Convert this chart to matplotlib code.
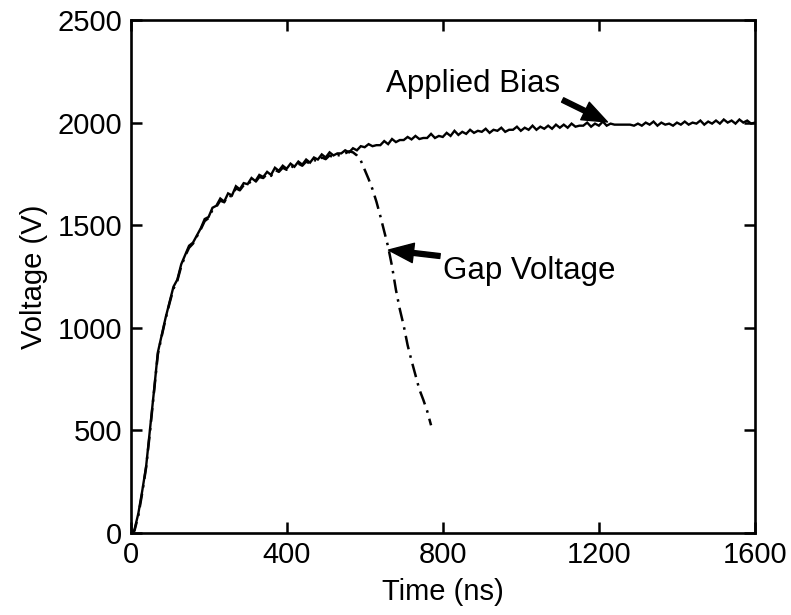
import matplotlib
matplotlib.use("Agg")
import matplotlib.pyplot as plt

plt.rcParams['font.family'] = ['Liberation Sans', 'DejaVu Sans']

# Applied bias, sampled every 10 ns from 0 to 1600 ns
bias_time = list(range(0, 1610, 10))
bias_volt = [
    0, 15, 95, 205, 325, 505, 690, 880, 965, 1050,
    1125, 1200, 1235, 1310, 1355, 1400, 1415, 1450, 1485, 1530,
    1540, 1585, 1595, 1630, 1615, 1655, 1645, 1690, 1675, 1705,
    1700, 1730, 1715, 1745, 1735, 1760, 1745, 1780, 1765, 1790,
    1775, 1800, 1785, 1810, 1795, 1820, 1805, 1830, 1820, 1845,
    1830, 1855, 1840, 1850, 1850, 1865, 1855, 1875, 1865, 1885,
    1880, 1895, 1885, 1890, 1890, 1910, 1895, 1920, 1905, 1915,
    1915, 1930, 1918, 1935, 1920, 1925, 1925, 1945, 1925, 1935,
    1930, 1950, 1935, 1960, 1940, 1955, 1945, 1965, 1950, 1960,
    1955, 1970, 1950, 1965, 1960, 1975, 1955, 1965, 1965, 1980,
    1960, 1975, 1965, 1985, 1965, 1980, 1970, 1985, 1970, 1990,
    1975, 1990, 1975, 1995, 1980, 1985, 1985, 2000, 1980, 1995,
    1985, 2005, 1985, 1995, 1990, 1990, 1990, 1990, 1990, 1985,
    1995, 1985, 2000, 1990, 2005, 1985, 2000, 1990, 1995, 1985,
    2000, 1990, 2005, 1990, 2000, 1995, 2010, 1990, 2005, 1995,
    2010, 1995, 2015, 2000, 2010, 1995, 2015, 2000, 2010, 1995,
    2000,
]

# Gap voltage, sampled every 10 ns from 0 to 770 ns
gap_time = list(range(0, 780, 10))
gap_volt = [
    0, 10, 85, 195, 320, 495, 685, 870, 960, 1045,
    1120, 1190, 1230, 1300, 1350, 1390, 1410, 1445, 1480, 1520,
    1535, 1575, 1590, 1620, 1612, 1645, 1640, 1680, 1670, 1695,
    1695, 1720, 1710, 1735, 1730, 1750, 1740, 1770, 1760, 1780,
    1770, 1790, 1780, 1800, 1790, 1810, 1800, 1818, 1810, 1830,
    1822, 1840, 1830, 1842, 1838, 1850, 1860, 1855, 1840, 1815,
    1770, 1725, 1675, 1615, 1545, 1470, 1395, 1300, 1185, 1090,
    1010, 915, 840, 770, 700, 650, 595, 525,
]

x_ticks = [0, 400, 800, 1200, 1600]
y_ticks = [0, 500, 1000, 1500, 2000, 2500]

fig = plt.figure(figsize=(7.91, 6.15), dpi=100)
ax = fig.add_axes([0.165, 0.1333, 0.7895, 0.8342])

ax.plot(bias_time, bias_volt, color='black', lw=1.7, solid_joinstyle='miter')
ax.plot(gap_time, gap_volt, color='black', lw=1.8, linestyle=(0, (5.5, 2.5, 1, 2.5)))

ax.set_xlim(0, 1600)
ax.set_ylim(0, 2500)
ax.set_xticks(x_ticks)
ax.set_yticks(y_ticks)
ax.tick_params(direction='in', length=8, width=1.8, labelsize=21,
               top=True, right=True, pad=6)
for s in ax.spines.values():
    s.set_linewidth(1.9)

ax.set_xlabel('Time (ns)', fontsize=21, labelpad=6)
ax.set_ylabel('Voltage (V)', fontsize=21, labelpad=7)

arrow = dict(facecolor='black', edgecolor='black', width=3.5,
             headwidth=14, headlength=18, shrink=0)
ax.annotate('Applied Bias', xy=(1222, 2003), xytext=(1100, 2190),
            fontsize=22.5, ha='right', va='center', arrowprops=arrow)
ax.annotate('Gap Voltage', xy=(661, 1379), xytext=(800, 1275),
            fontsize=22.5, ha='left', va='center', arrowprops=arrow)

fig.savefig('out.png', dpi=100)
